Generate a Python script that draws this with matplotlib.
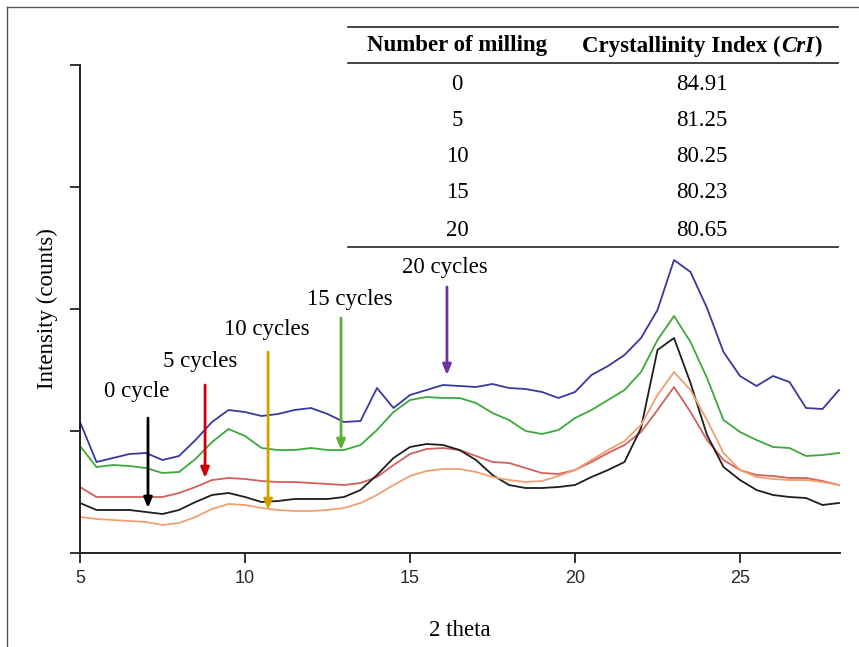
import matplotlib
matplotlib.use("Agg")
import matplotlib.pyplot as plt
from matplotlib.lines import Line2D
from matplotlib.offsetbox import TextArea, HPacker, AnnotationBbox

# ---- data ----
two_theta = [5, 5.5, 6, 6.5, 7, 7.5, 8, 8.5, 9, 9.5, 10, 10.5, 11, 11.5, 12, 12.5,
             13, 13.5, 14, 14.5, 15, 15.5, 16, 16.5, 17, 17.5, 18, 18.5, 19, 19.5,
             20, 20.5, 21, 21.5, 22, 22.5, 23, 23.5, 24, 24.5, 25, 25.5, 26, 26.5,
             27, 27.5, 28]

cyc0 = [50, 43, 43, 43, 41, 39, 43, 51, 58, 60, 56, 51, 52, 54, 54, 54,
        56, 63, 78, 95, 106, 109, 108, 103, 93, 78, 68, 65, 65, 66,
        68, 76, 83, 91, 125, 203, 215, 170, 118, 86, 73, 63, 58, 56,
        55, 48, 50]
cyc5 = [66, 56, 56, 56, 56, 56, 60, 66, 73, 75, 74, 72, 71, 71, 70, 69,
        68, 70, 76, 88, 99, 104, 105, 103, 97, 91, 90, 85, 80, 79,
        83, 91, 100, 108, 121, 143, 166, 141, 113, 93, 83, 78, 77, 75,
        75, 72, 68]
cyc10 = [36, 34, 33, 32, 31, 28, 30, 36, 44, 49, 48, 45, 43, 42, 42, 43,
         45, 50, 58, 68, 77, 82, 84, 84, 81, 76, 73, 71, 72, 77,
         83, 93, 103, 112, 128, 158, 181, 163, 133, 100, 83, 76, 74, 73,
         73, 71, 68]
cyc15 = [107, 86, 88, 87, 85, 80, 81, 94, 111, 124, 117, 105, 103, 103, 105, 103,
         103, 108, 123, 141, 153, 156, 155, 155, 150, 140, 133, 122, 119, 123,
         135, 143, 153, 163, 181, 213, 237, 211, 175, 133, 121, 113, 106, 105,
         97, 98, 100]
cyc20 = [131, 91, 95, 99, 100, 93, 97, 113, 131, 143, 141, 137, 139, 143, 145, 139,
         131, 132, 165, 145, 158, 163, 168, 167, 166, 169, 165, 164, 161, 155,
         161, 178, 187, 198, 215, 243, 293, 281, 245, 201, 177, 167, 177, 171,
         145, 144, 163]

series = [cyc20, cyc15, cyc5, cyc0, cyc10]
series_colors = ["#38389e", "#3da83d", "#d2605e", "#1e1e1e", "#f0a070"]

arrow_labels = ["0 cycle", "5 cycles", "10 cycles", "15 cycles", "20 cycles"]
arrow_colors = ["#000000", "#cc0000", "#d4a000", "#5fae35", "#7030a0"]

header_col1 = "Number of milling"
header_col2 = ["Crystallinity Index (", "CrI", ")"]
milling = ["0", "5", "10", "15", "20"]
cri = ["84.91", "81.25", "80.25", "80.23", "80.65"]

x_ticks = [5, 10, 15, 20, 25]
y_ticks = [0, 122, 244, 366, 488]

# ---- figure ----
W, H = 859, 647
fig = plt.figure(figsize=(W / 100, H / 100), dpi=100)
serif = "Liberation Serif"
FS = 16.5

def fx(px):
    return px / W

def fy(py):
    return 1 - py / H

ax = fig.add_axes([fx(80), fy(553), (840 - 80) / W, (553 - 65) / H])
for s, c in zip(series, series_colors):
    ax.plot(two_theta, s, color=c, lw=1.3, solid_joinstyle="round")

ax.set_xlim(5, 28.03)
ax.set_ylim(0, 488)
ax.set_xticks(x_ticks)
ax.set_yticks(y_ticks)
ax.set_yticklabels([])
for sp in ["top", "right"]:
    ax.spines[sp].set_visible(False)
for sp in ["left", "bottom"]:
    ax.spines[sp].set_linewidth(1.4)
    ax.spines[sp].set_color("#222222")
ax.tick_params(axis="both", direction="out", length=7, width=1.3, color="#222222")
ax.tick_params(axis="x", labelsize=13, labelcolor="#2a2a2a", pad=5)
for lab in ax.get_xticklabels():
    lab.set_fontfamily("Liberation Sans")
ax.set_xlabel("2 theta", fontfamily=serif, fontsize=FS, labelpad=24)
ax.set_ylabel("Intensity (counts)", fontfamily=serif, fontsize=FS, labelpad=5)

# arrows + labels (x, y_start, y_end, label x, label y)
arrow_pos = [(7.06, 135, 45, 6.73, 161),
             (8.79, 168, 75, 8.64, 191),
             (10.70, 201, 43, 10.67, 224),
             (12.91, 235, 103, 13.18, 253),
             (16.12, 266, 178, 16.06, 285)]
for (ax_x, y0, y1, lx, ly), lab, c in zip(arrow_pos, arrow_labels, arrow_colors):
    ax.annotate("", xy=(ax_x, y1), xytext=(ax_x, y0),
                arrowprops=dict(arrowstyle="-|>,head_length=0.6,head_width=0.25",
                                color=c, lw=2.0, shrinkA=0, shrinkB=0))
    ax.text(lx, ly, lab, fontfamily=serif, fontsize=FS, ha="center", va="center")

# ---- table ----
for py in [27, 63, 247]:
    fig.add_artist(Line2D([fx(348), fx(838)], [fy(py), fy(py)], color="#222222", lw=1.2))
col1, col2 = 457, 702
fig.text(fx(col1), fy(46), header_col1, fontfamily=serif, fontsize=FS,
         fontweight="bold", ha="center", va="center")
parts = [TextArea(header_col2[0], textprops=dict(fontfamily=serif, fontsize=FS, fontweight="bold")),
         TextArea(header_col2[1], textprops=dict(fontfamily=serif, fontsize=FS, fontweight="bold",
                                                 fontstyle="italic")),
         TextArea(header_col2[2], textprops=dict(fontfamily=serif, fontsize=FS, fontweight="bold"))]
hp = HPacker(children=parts, pad=0, sep=0, align="baseline")
ab = AnnotationBbox(hp, (fx(col2), fy(46)), xycoords="figure fraction",
                    frameon=False, box_alignment=(0.5, 0.5), pad=0)
fig.add_artist(ab)
row_y = [84, 120, 156, 193, 230]
for ry, m, c in zip(row_y, milling, cri):
    fig.text(fx(col1), fy(ry), m, fontfamily=serif, fontsize=FS, ha="center", va="center")
    fig.text(fx(col2), fy(ry), c, fontfamily=serif, fontsize=FS, ha="center", va="center")

# border (left and top)
fig.add_artist(Line2D([fx(7), fx(7)], [fy(7), fy(647)], color="#555555", lw=1.0))
fig.add_artist(Line2D([fx(7), fx(859)], [fy(7), fy(7)], color="#555555", lw=1.0))

fig.savefig("out.png", dpi=100)
